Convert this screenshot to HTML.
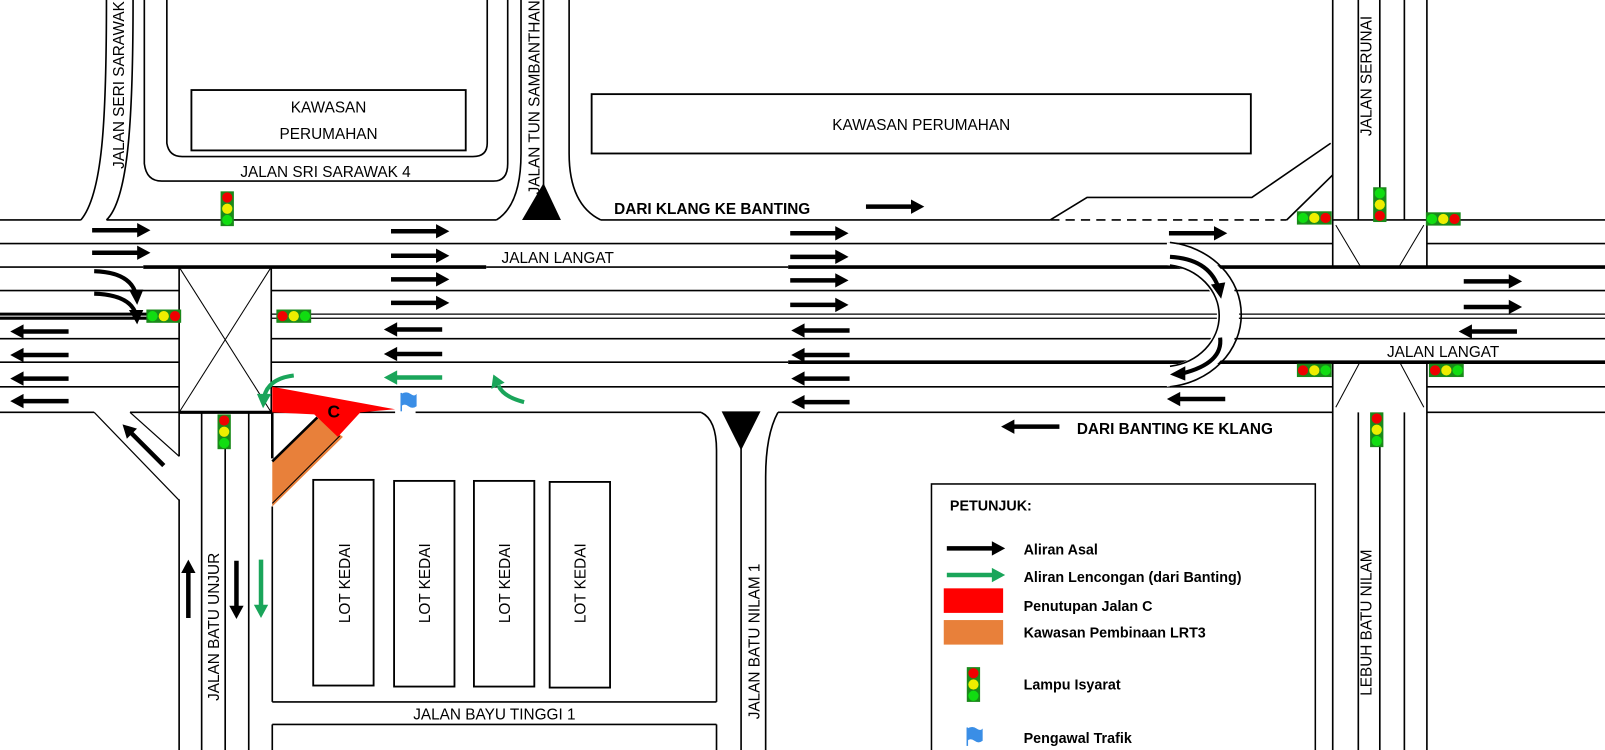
<!DOCTYPE html>
<html><head><meta charset="utf-8"><style>
html,body{margin:0;padding:0;background:#fff;}
svg{display:block;}
text{font-family:"Liberation Sans",sans-serif;fill:#000;}
</style></head><body>
<svg width="1605" height="750" viewBox="0 0 1568 733" preserveAspectRatio="none" xmlns="http://www.w3.org/2000/svg">
<defs>
<g id="ar"><polygon points="0,-2.2 44,-2.2 44,-7 57,0 44,7 44,2.2 0,2.2" fill="#000"/></g>
<g id="arg"><polygon points="0,-2.2 44,-2.2 44,-7 57,0 44,7 44,2.2 0,2.2" fill="#1aa55a"/></g>
<g id="tlv"><rect x="-6.5" y="-17" width="13" height="34" fill="#1a8a1a"/><circle cx="0" cy="-11" r="5" fill="#e00"/><circle cx="0" cy="0" r="5" fill="#ee0"/><circle cx="0" cy="11" r="5" fill="#1d1"/></g>
<g id="flag"><path d="M-6,-8 Q-1,-11 3,-8 Q7,-5 9,-8 L9,4 Q5,7 1,4 Q-3,1 -6,4 Z" fill="#3a8ee6"/><line x1="-6" y1="-9" x2="-6" y2="9" stroke="#3a8ee6" stroke-width="1.5"/></g>
</defs>
<rect width="1568" height="733" fill="#fff"/>
<g stroke="#000" fill="none" stroke-width="1.6">
<path d="M104,0 C104,120 100,190 79,215"/>
<path d="M130,0 C130,120 125,195 104,215"/>
<path d="M141,0 L141,160 Q143,177 158,177 L482,177 Q496,177 496,160 L496,0"/>
<path d="M163,0 L163,140 Q165,153 178,153 L462,153 Q476,153 476,140 L476,0"/>
<rect x="187" y="88" width="268" height="59" stroke-width="1.8"/>
<rect x="578" y="92" width="644" height="58" stroke-width="1.8"/>
<path d="M509,0 L509,150 Q509,200 485,215"/>
<path d="M556,0 L556,150 Q556,200 587,215"/>
<line x1="531" y1="0" x2="531" y2="190"/>
<line x1="0" y1="215" x2="79" y2="215"/>
<line x1="104" y1="215" x2="485" y2="215"/>
<line x1="587" y1="215" x2="1026" y2="215"/>
<line x1="1026" y1="215" x2="1257" y2="215" stroke-dasharray="9,6"/>
<line x1="1394" y1="215" x2="1568" y2="215"/>
<path d="M1026,215 L1062,193 L1223,193 L1300,140"/>
<path d="M1257,215 L1302,171"/>
<line x1="1302" y1="0" x2="1302" y2="262"/>
<line x1="1327" y1="0" x2="1327" y2="215"/>
<line x1="1348" y1="0" x2="1348" y2="185"/>
<line x1="1372" y1="0" x2="1372" y2="215"/>
<line x1="1394" y1="0" x2="1394" y2="262"/>
<line x1="1302" y1="215" x2="1394" y2="215"/>
<line x1="1305" y1="220" x2="1330" y2="262" stroke-width="1"/>
<line x1="1391" y1="220" x2="1366" y2="262" stroke-width="1"/>
<line x1="1305" y1="398" x2="1328" y2="355" stroke-width="1"/>
<line x1="1391" y1="398" x2="1368" y2="355" stroke-width="1"/>
<line x1="1302" y1="355" x2="1302" y2="733"/>
<line x1="1394" y1="355" x2="1394" y2="733"/>
<line x1="1327" y1="403" x2="1327" y2="733"/>
<line x1="1348" y1="435" x2="1348" y2="733"/>
<line x1="1372" y1="403" x2="1372" y2="733"/>
<line x1="0" y1="238" x2="1302" y2="238"/>
<line x1="1394" y1="238" x2="1568" y2="238"/>
<line x1="0" y1="261" x2="140" y2="261"/>
<line x1="475" y1="261" x2="770" y2="261"/>
<line x1="0" y1="284" x2="175" y2="284"/><line x1="265" y1="284" x2="1568" y2="284"/>
<line x1="265" y1="307" x2="1568" y2="307" stroke-width="1.2"/>
<line x1="265" y1="311" x2="1568" y2="311" stroke-width="1.2"/>
<line x1="0" y1="331" x2="175" y2="331"/><line x1="265" y1="331" x2="1568" y2="331"/>
<line x1="0" y1="354" x2="175" y2="354"/><line x1="265" y1="354" x2="770" y2="354"/>
<line x1="0" y1="378" x2="175" y2="378"/><line x1="265" y1="378" x2="1302" y2="378"/><line x1="1394" y1="378" x2="1568" y2="378"/>
<line x1="0" y1="403" x2="92" y2="403"/>
<line x1="127" y1="403" x2="175" y2="403"/>
<line x1="175" y1="403" x2="266" y2="403" stroke-width="3"/>
<line x1="266" y1="403" x2="386" y2="403"/>
<line x1="406" y1="403" x2="685" y2="403"/>
<line x1="760" y1="403" x2="1302" y2="403"/>
<line x1="1394" y1="403" x2="1568" y2="403"/>
<line x1="140" y1="261" x2="475" y2="261" stroke-width="3.5"/>
<line x1="0" y1="307" x2="145" y2="307" stroke-width="3"/>
<line x1="0" y1="311" x2="145" y2="311" stroke-width="3"/>
<line x1="770" y1="261" x2="1568" y2="261" stroke-width="3.5"/>
<line x1="770" y1="354" x2="1568" y2="354" stroke-width="3.5"/>
<rect x="175" y="261" width="90" height="142"/>
<line x1="175" y1="261" x2="265" y2="403" stroke-width="1"/>
<line x1="265" y1="261" x2="175" y2="403" stroke-width="1"/>
<line x1="92" y1="403" x2="175" y2="489" stroke-width="1.2"/>
<line x1="127" y1="403" x2="175" y2="446" stroke-width="1.2"/>
<line x1="175" y1="403" x2="175" y2="446"/>
<line x1="175" y1="488" x2="175" y2="733"/>
<line x1="197" y1="403" x2="197" y2="733"/>
<line x1="220" y1="438" x2="220" y2="733"/>
<line x1="243" y1="403" x2="243" y2="733"/>
<line x1="266" y1="403" x2="266" y2="448" stroke-width="2.5"/>
<line x1="266" y1="495" x2="266" y2="686"/>
<line x1="266" y1="708" x2="266" y2="733"/>
<path d="M685,403 Q700,410 700,440 L700,686"/>
<line x1="700" y1="708" x2="700" y2="733"/>
<path d="M760,403 Q748,425 748,466 L748,733"/>
<line x1="724" y1="430" x2="724" y2="733"/>
<line x1="266" y1="686" x2="700" y2="686"/>
<line x1="266" y1="708" x2="700" y2="708"/>
<rect x="306" y="469" width="59" height="201" stroke-width="1.8"/>
<rect x="385" y="470" width="59" height="201" stroke-width="1.8"/>
<rect x="463" y="470" width="59" height="201" stroke-width="1.8"/>
<rect x="537" y="471" width="59" height="201" stroke-width="1.8"/>
<rect x="910" y="473" width="375" height="280" stroke-width="1.5"/>
</g>
<polygon points="510,215 548,215 531,179" fill="#000"/>
<polygon points="705,402 743,402 724,440" fill="#000"/>
<path d="M1140,237 A80,71 0 0 1 1140,378 L1140,358 A57,50 0 0 0 1140,259 Z" fill="#fff"/>
<path d="M1143,237 A79,71 0 0 1 1143,378" fill="none" stroke="#000" stroke-width="1.6"/>
<path d="M1143,259 A56,50 0 0 1 1143,358" fill="none" stroke="#000" stroke-width="1.6"/>
<path d="M1143,251 Q1180,253 1190,280" fill="none" stroke="#000" stroke-width="4"/>
<polygon points="1183,278 1197,276 1193,292" fill="#000"/>
<path d="M1192,330 Q1195,355 1155,365" fill="none" stroke="#000" stroke-width="4"/>
<polygon points="1158,358 1158,372 1143,366" fill="#000"/>
<polygon points="266,451 310,408 335,427 266,495" fill="#e8803a"/>
<line x1="266" y1="451" x2="310" y2="408" stroke="#000" stroke-width="2.5"/>
<line x1="266" y1="492" x2="332" y2="426" stroke="#000" stroke-width="1"/>
<polygon points="266,378 386,400 352,403 330,427 307,405 266,403" fill="#f00"/>
<text x="320" y="408" font-size="17" font-weight="bold" fill="#222">C</text>
<use href="#flag" x="398" y="393"/>
<g>
<use href="#ar" transform="translate(90,225)"/><use href="#ar" transform="translate(90,247)"/>
<use href="#ar" transform="translate(67,324) scale(-1,1)"/><use href="#ar" transform="translate(67,347) scale(-1,1)"/><use href="#ar" transform="translate(67,370) scale(-1,1)"/><use href="#ar" transform="translate(67,392) scale(-1,1)"/>
<use href="#ar" transform="translate(382,226)"/><use href="#ar" transform="translate(382,250)"/><use href="#ar" transform="translate(382,273)"/><use href="#ar" transform="translate(382,296)"/>
<use href="#ar" transform="translate(432,322) scale(-1,1)"/><use href="#ar" transform="translate(432,346) scale(-1,1)"/>
<use href="#arg" transform="translate(432,369) scale(-1,1)"/>
<use href="#ar" transform="translate(772,228)"/><use href="#ar" transform="translate(772,251)"/><use href="#ar" transform="translate(772,274)"/><use href="#ar" transform="translate(772,298)"/>
<use href="#ar" transform="translate(830,323) scale(-1,1)"/><use href="#ar" transform="translate(830,347) scale(-1,1)"/><use href="#ar" transform="translate(830,370) scale(-1,1)"/><use href="#ar" transform="translate(830,393) scale(-1,1)"/>
<use href="#ar" transform="translate(1142,228)"/>
<use href="#ar" transform="translate(1197,390) scale(-1,1)"/>
<use href="#ar" transform="translate(1430,275)"/><use href="#ar" transform="translate(1430,300)"/>
<use href="#ar" transform="translate(1482,324) scale(-1,1)"/>
<use href="#ar" transform="translate(846,202)"/>
<use href="#ar" transform="translate(1035,417) scale(-1,1)"/>
<use href="#ar" transform="translate(160,455) rotate(-135)"/>
<use href="#ar" transform="translate(184,604) rotate(-90)"/>
<use href="#ar" transform="translate(231,548) rotate(90)"/>
<use href="#arg" transform="translate(255,547) rotate(90)"/>
<use href="#ar" transform="translate(925,536)"/>
<use href="#arg" transform="translate(925,562)"/>
</g>
<path d="M92,265 Q125,266 132,285" fill="none" stroke="#000" stroke-width="4"/>
<polygon points="126,283 140,283 134,298" fill="#000"/>
<path d="M92,287 Q125,288 132,305" fill="none" stroke="#000" stroke-width="4"/>
<polygon points="126,303 140,303 134,317" fill="#000"/>
<path d="M287,367 Q262,370 258,388" fill="none" stroke="#1aa55a" stroke-width="4"/>
<polygon points="251,385 265,385 257,399" fill="#1aa55a"/>
<path d="M512,393 Q492,388 487,377" fill="none" stroke="#1aa55a" stroke-width="4"/>
<polygon points="480,380 493,374 482,366" fill="#1aa55a"/>
<use href="#tlv" x="222" y="204"/>
<use href="#tlv" transform="translate(160,309) rotate(90)"/>
<use href="#tlv" transform="translate(287,309) rotate(-90)"/>
<use href="#tlv" x="219" y="422"/>
<use href="#tlv" transform="translate(1348,200) rotate(180)"/>
<use href="#tlv" transform="translate(1284,213) rotate(90)"/>
<use href="#tlv" transform="translate(1410,214) rotate(90)"/>
<use href="#tlv" transform="translate(1284,362) rotate(-90)"/>
<use href="#tlv" transform="translate(1413,362) rotate(-90)"/>
<use href="#tlv" x="1345" y="420"/>
<use href="#tlv" x="951" y="669"/>
<use href="#flag" x="951" y="720"/>
<rect x="922" y="575" width="58" height="24" fill="#f00"/>
<rect x="922" y="606" width="58" height="24" fill="#e8803a"/>
<g font-size="15">
<text x="321" y="110" text-anchor="middle">KAWASAN</text>
<text x="321" y="136" text-anchor="middle">PERUMAHAN</text>
<text x="900" y="127" text-anchor="middle">KAWASAN PERUMAHAN</text>
<text x="318" y="173" text-anchor="middle">JALAN SRI SARAWAK 4</text>
<text x="490" y="257">JALAN LANGAT</text>
<text x="1355" y="349">JALAN LANGAT</text>
<text x="483" y="703" text-anchor="middle">JALAN BAYU TINGGI 1</text>
<text transform="translate(121,165) rotate(-90)">JALAN SERI SARAWAK</text>
<text transform="translate(527,190) rotate(-90)">JALAN TUN SAMBANTHAN</text>
<text transform="translate(1340,133) rotate(-90)">JALAN SERUNAI</text>
<text transform="translate(214,685) rotate(-90)">JALAN BATU UNJUR</text>
<text transform="translate(742,703) rotate(-90)">JALAN BATU NILAM 1</text>
<text transform="translate(1340,680) rotate(-90)">LEBUH BATU NILAM</text>
<text transform="translate(342,570) rotate(-90)" text-anchor="middle">LOT KEDAI</text>
<text transform="translate(420,570) rotate(-90)" text-anchor="middle">LOT KEDAI</text>
<text transform="translate(498,570) rotate(-90)" text-anchor="middle">LOT KEDAI</text>
<text transform="translate(572,570) rotate(-90)" text-anchor="middle">LOT KEDAI</text>
</g>
<g font-size="15" font-weight="bold">
<text x="600" y="209">DARI KLANG KE BANTING</text>
<text x="1052" y="424">DARI BANTING KE KLANG</text>
<text x="928" y="499" font-size="14">PETUNJUK:</text>
<text x="1000" y="542" font-size="14">Aliran Asal</text>
<text x="1000" y="569" font-size="14">Aliran Lencongan (dari Banting)</text>
<text x="1000" y="597" font-size="14">Penutupan Jalan C</text>
<text x="1000" y="623" font-size="14">Kawasan Pembinaan LRT3</text>
<text x="1000" y="674" font-size="14">Lampu Isyarat</text>
<text x="1000" y="726" font-size="14">Pengawal Trafik</text>
</g>
</svg>
</body></html>
